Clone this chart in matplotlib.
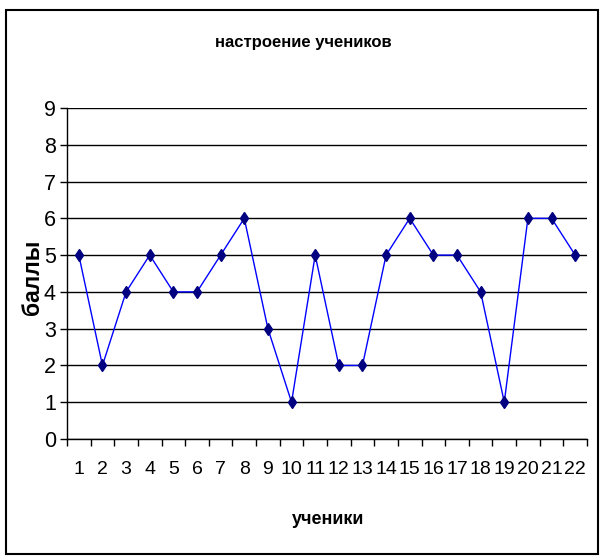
import matplotlib
matplotlib.use("Agg")
import matplotlib.pyplot as plt
from matplotlib import font_manager
from matplotlib.patches import Rectangle
from matplotlib.ticker import FixedLocator, NullFormatter

students = list(range(1, 23))
scores = [5, 2, 4, 5, 4, 4, 5, 6, 3, 1, 5, 2, 2, 5, 6, 5, 5, 4, 1, 6, 6, 5]
y_ticks = list(range(0, 10))
title_text = "настроение учеников"
xlabel_text = "ученики"
ylabel_text = "баллы"

names = {f.name for f in font_manager.fontManager.ttflist}
narrow = "Liberation Sans Narrow" in names
base = "Liberation Sans" if "Liberation Sans" in names else "DejaVu Sans"
plt.rcParams['font.family'] = [base, 'DejaVu Sans']
cond = ["Liberation Sans Narrow", base, 'DejaVu Sans'] if narrow else [base, 'DejaVu Sans']
title_fs = 14 if narrow else 12
lab_fs = 15 if narrow else 13
ylab_fs = 19 if narrow else 16.5

W, H = 602, 560
fig = plt.figure(figsize=(W / 100, H / 100), dpi=100)
ax = fig.add_axes([67 / W, 1 - 439 / H, 520 / W, 331 / H])

ax.plot(students, scores, color="#0000FF", lw=1.0, marker="d", markersize=6.5,
        markerfacecolor="#000080", markeredgecolor="#000080", zorder=3)

ax.set_xlim(0.5, 22.5)
ax.set_ylim(0, 9)
ax.set_yticks(y_ticks)
ax.yaxis.grid(True, color="black", lw=1.0)
ax.set_axisbelow(True)
for s in ("top", "right"):
    ax.spines[s].set_visible(False)
ax.spines["left"].set_linewidth(1.0)
ax.spines["bottom"].set_linewidth(1.0)

ax.set_xticks(students)
ax.set_xticklabels([str(s) for s in students], fontsize=14)
ax.xaxis.set_minor_locator(FixedLocator([i + 0.5 for i in range(0, 23)]))
ax.xaxis.set_minor_formatter(NullFormatter())
ax.tick_params(axis="x", which="major", length=0, pad=16)
ax.tick_params(axis="x", which="minor", length=5, width=1, direction="out", color="black")
ax.tick_params(axis="y", which="major", length=5, width=1, direction="out", labelsize=15.5, pad=3)

fig.text(303 / W, 1 - 43 / H, title_text, ha="center", va="center",
         fontsize=title_fs, fontweight="bold", family=cond)
fig.text(328 / W, 1 - 519 / H, xlabel_text, ha="center", va="center",
         fontsize=lab_fs, fontweight="bold", family=cond)
fig.text(33 / W, 1 - 277 / H, ylabel_text, ha="center", va="center",
         rotation=90, fontsize=ylab_fs, fontweight="bold", family=cond)

fig.patches.append(Rectangle((5.5 / W, 1 - 553.5 / H), 592 / W, 544 / H,
                             transform=fig.transFigure, fill=False,
                             edgecolor="black", lw=1.5))

fig.savefig("out.png", dpi=100)
